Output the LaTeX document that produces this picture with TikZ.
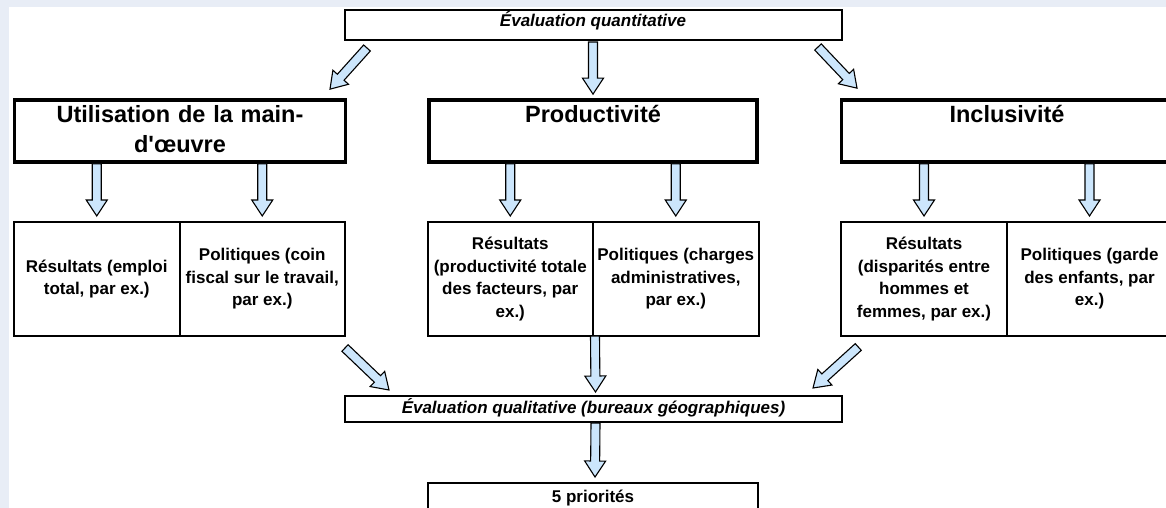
\documentclass[tikz,border=0pt]{standalone}
\usepackage{fontspec}
\setmainfont{Liberation Sans}[Ligatures=TeXOff]
\usetikzlibrary{positioning, calc}

\definecolor{fondbleu}{RGB}{232,237,246}
\definecolor{bleufleche}{RGB}{204,230,252}

\begin{document}
\begin{tikzpicture}[
    x=1pt, y=-1pt,
    line join=miter,
    titre/.style={draw, line width=3.7pt, minimum width=331pt, text width=325pt, align=center,
        inner xsep=0pt, inner ysep=0pt, text height=23pt, text depth=39pt,
        font=\fontsize{23.5}{29}\selectfont\bfseries},
    cellule/.style={draw, line width=2pt, minimum width=165.5pt, minimum height=114pt,
        align=center, inner sep=2pt, outer sep=0pt, font=\fontsize{17}{22.5}\selectfont\bfseries},
    bande/.style={draw, line width=2pt, minimum width=497pt, inner ysep=0pt,
        font=\fontsize{17}{22}\selectfont\bfseries\itshape},
    fleche/.style={draw=black, fill=bleufleche, line width=1.1pt,
        to path={let \p1=($(\tikztotarget)!16pt!(\tikztostart)$) in
            ($(\tikztostart)!4.5pt!90:(\tikztotarget)$)
            -- ($(\p1)!4.5pt!90:(\tikztotarget)$)
            -- ($(\p1)!10.5pt!90:(\tikztotarget)$)
            -- (\tikztotarget)
            -- ($(\p1)!10.5pt!-90:(\tikztotarget)$)
            -- ($(\p1)!4.5pt!-90:(\tikztotarget)$)
            -- ($(\tikztostart)!4.5pt!-90:(\tikztotarget)$)
            -- cycle}}
]
    \useasboundingbox (0,0) rectangle (1166,508);
    \fill[fondbleu] (0,0) rectangle (1166,508);
    \fill[white] (9,7) rectangle (1166,508);

    \node[bande, text height=17pt, text depth=13pt] (quant) at (593,25) {Évaluation quantitative};

    \node[titre] (util) at (180,131) {Utilisation de la main-\\d'œuvre};
    \node[titre, minimum width=328pt] (prod) at (593,131) {Productivité};
    \node[titre] (incl) at (1007,131) {Inclusivité};

    \node[cellule] (res1) at (96.75,279) {Résultats (emploi\\total, par ex.)};
    \node[cellule, right=0pt of res1] (pol1) {Politiques (coin\\fiscal sur le travail,\\par ex.)};
    \node[cellule] (res2) at (510.25,279) {Résultats\\(productivité totale\\des facteurs, par\\ex.)};
    \node[cellule, right=0pt of res2] (pol2) {Politiques (charges\\administratives,\\par ex.)};
    \node[cellule] (res3) at (924,279) {Résultats\\(disparités entre\\hommes et\\femmes, par ex.)};
    \node[cellule, right=0pt of res3] (pol3) {Politiques (garde\\des enfants, par\\ex.)};

    \node[bande, text height=17pt, text depth=9pt] (qual) at (593.5,409) {Évaluation qualitative (bureaux géographiques)};
    \node[bande, minimum width=330pt, text height=19pt, text depth=20pt, font=\fontsize{17}{22}\selectfont\bfseries] (prio) at (593,502.5) {5 priorités};

    % vers les trois piliers
    \draw[fleche] ($(quant.south)+(-226,7)$) to ($(util.north)+(150,-9)$);
    \draw[fleche] ($(quant.south)+(0,1)$) to ($(prod.north)+(0,-4)$);
    \draw[fleche] ($(quant.south)+(225,6)$) to ($(incl.north)+(-150,-10)$);

    % piliers vers resultats et politiques
    \draw[fleche] (util.south -| res1.north) to ($(res1.north)+(0,-6)$);
    \draw[fleche] (util.south -| pol1.north) to ($(pol1.north)+(0,-6)$);
    \draw[fleche] (prod.south -| res2.north) to ($(res2.north)+(0,-6)$);
    \draw[fleche] (prod.south -| pol2.north) to ($(pol2.north)+(0,-6)$);
    \draw[fleche] (incl.south -| res3.north) to ($(res3.north)+(0,-6)$);
    \draw[fleche] (incl.south -| pol3.north) to ($(pol3.north)+(0,-6)$);

    % vers l'evaluation qualitative
    \draw[fleche] ($(pol1.south east)+(0,12)$) to ($(qual.north west)+(45,-5)$);
    \draw[fleche] ($(res2.south east)+(2,0)$) to ($(qual.north)+(2,-3)$);
    \draw[fleche] ($(res3.south west)+(17,11)$) to ($(qual.north east)+(-30,-7)$);
    \draw[fleche] ($(qual.south)+(2,0)$) to ($(prio.north)+(2,-5)$);
\end{tikzpicture}
\end{document}
